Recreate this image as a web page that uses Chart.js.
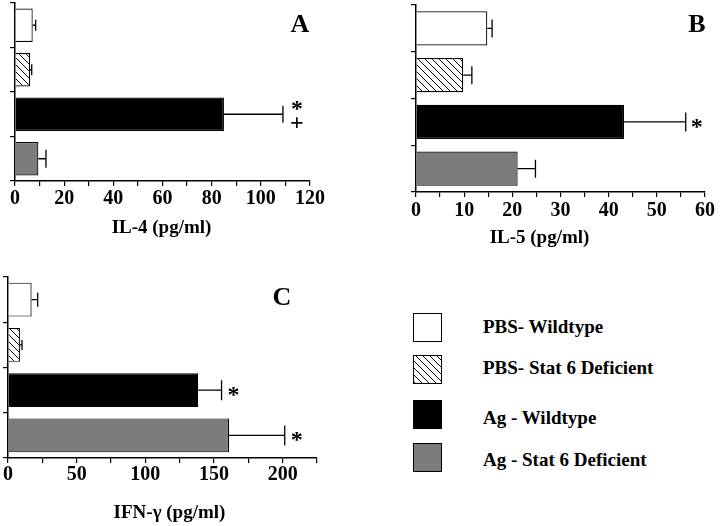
<!DOCTYPE html>
<html>
<head>
<meta charset="utf-8">
<script src="https://cdn.jsdelivr.net/npm/chart.js@4"></script>
<style>
  body { margin: 0; background: #fff; width: 720px; height: 526px; position: relative; overflow: hidden; }
  canvas { position: absolute; }
  #legend { position: absolute; left: 0; top: 0; font: bold 19px "Liberation Serif", "Times New Roman", serif; color: #000; }
  .sw { position: absolute; width: 27px; height: 27px; border: 1.5px solid #000; }
  .lt { position: absolute; left: 483px; line-height: 20px; white-space: nowrap; }
</style>
</head>
<body>
<canvas id="chartA" width="330" height="245" style="left:0;top:0"></canvas>
<canvas id="chartB" width="340" height="255" style="left:380px;top:0"></canvas>
<canvas id="chartC" width="340" height="256" style="left:0;top:270px"></canvas>
<div id="legend"></div>
<script>
// groups, top to bottom
const groups = ['PBS- Wildtype', 'PBS- Stat 6 Deficient', 'Ag - Wildtype', 'Ag - Stat 6 Deficient'];

// panel A - IL-4
const il4 = [7.2, 6.1, 85, 9.5];
const il4Err = [1.2, 0.7, 24, 3.1];
const il4Marks = [[], [], ['*', '+'], []];

// panel B - IL-5
const il5 = [14.8, 9.8, 43.2, 21.1];
const il5Err = [1.0, 1.8, 12.8, 3.7];
const il5Marks = [[], [], ['*'], []];

// panel C - IFN-gamma
const ifng = [17.2, 8.7, 138.5, 161];
const ifngErr = [4.4, 1.5, 17, 40.5];
const ifngMarks = [[], [], ['*'], ['*']];

const serif = '"Liberation Serif", "Times New Roman", serif';

// hatch for the stat6 deficient PBS group
function hatch() {
  const s = 7;
  const c = document.createElement('canvas');
  c.width = s; c.height = s;
  const g = c.getContext('2d');
  g.fillStyle = '#fff';
  g.fillRect(0, 0, s, s);
  g.strokeStyle = '#000';
  g.lineWidth = 1;
  g.beginPath();
  g.moveTo(0, 0); g.lineTo(s, s);
  g.moveTo(-1, s - 1); g.lineTo(1, s + 1);
  g.moveTo(s - 1, -1); g.lineTo(s + 1, 1);
  g.stroke();
  return g.createPattern(c, 'repeat');
}
const fills = ['#ffffff', hatch(), '#000000', '#7c7c7c'];

// error bars, significance marks, panel letter, axis title
const deco = {
  id: 'deco',
  afterDatasetsDraw(chart, args, o) {
    const ctx = chart.ctx, xs = chart.scales.x, area = chart.chartArea;
    const vals = chart.data.datasets[0].data;
    const meta = chart.getDatasetMeta(0);
    ctx.save();
    ctx.strokeStyle = '#000';
    ctx.fillStyle = '#000';
    ctx.lineWidth = 1.3;
    meta.data.forEach((bar, i) => {
      const x0 = xs.getPixelForValue(vals[i]);
      const x1 = xs.getPixelForValue(vals[i] + o.err[i]);
      const cy = bar.y;
      const cap = o.cap[i];
      ctx.beginPath();
      ctx.moveTo(x0, cy); ctx.lineTo(x1, cy);
      ctx.moveTo(x1, cy - cap / 2); ctx.lineTo(x1, cy + cap / 2);
      ctx.stroke();
      const m = o.marks[i];
      ctx.font = 'bold 24px ' + serif;
      ctx.textAlign = 'center';
      ctx.textBaseline = 'alphabetic';
      if (m.length === 1) {
        ctx.fillText(m[0], x1 + o.markGap, cy + 12);
      } else if (m.length === 2) {
        ctx.fillText(m[0], x1 + o.markGap, cy + 2);
        ctx.fillText(m[1], x1 + o.markGap, cy + 16);
      }
    });
    ctx.font = 'bold 26px ' + serif;
    ctx.textAlign = 'center';
    ctx.textBaseline = 'middle';
    ctx.fillText(o.letter, area.right + o.letterPos[0], area.top + o.letterPos[1]);
    ctx.font = 'bold 19px ' + serif;
    ctx.fillText(o.title, (area.left + area.right) / 2 + o.titlePos[0], area.bottom + o.titlePos[1]);
    ctx.restore();
  }
};

function makePanel(id, vals, errs, marks, cfg) {
  return new Chart(document.getElementById(id), {
    type: 'bar',
    data: {
      labels: groups,
      datasets: [{
        data: vals,
        backgroundColor: fills,
        borderColor: '#000',
        borderWidth: 1.2,
        barPercentage: cfg.bp,
        categoryPercentage: 1
      }]
    },
    options: {
      indexAxis: 'y',
      responsive: false,
      animation: false,
      layout: { padding: cfg.pad },
      plugins: {
        legend: { display: false },
        tooltip: { enabled: false },
        deco: {
          err: errs, marks: marks, cap: cfg.cap, markGap: cfg.markGap,
          letter: cfg.letter, letterPos: cfg.letterPos,
          title: cfg.title, titlePos: cfg.titlePos
        }
      },
      scales: {
        x: {
          min: 0, max: cfg.max,
          ticks: {
            stepSize: cfg.step, autoSkip: false, maxRotation: 0,
            padding: cfg.tickPad, color: '#000',
            font: { family: serif, size: 20, weight: 'bold', lineHeight: 1 },
            callback: v => (v % cfg.labelStep === 0 ? v : '')
          },
          grid: { drawOnChartArea: false, tickLength: 5, color: '#000', lineWidth: 1.2 },
          border: { color: '#000', width: 1.5 },
          afterFit: s => { s.height = cfg.xh; }
        },
        y: {
          ticks: { display: false },
          grid: { drawOnChartArea: false, tickLength: 5, color: '#000', lineWidth: 1.2, offset: true },
          border: { color: '#000', width: 1.5 },
          afterFit: s => { s.width = cfg.yw; }
        }
      }
    },
    plugins: [deco]
  });
}

makePanel('chartA', il4, il4Err, il4Marks, {
  max: 120, step: 10, labelStep: 20, bp: 0.75,
  pad: { left: 7, right: 20, top: 3, bottom: 0 }, yw: 8, xh: 64, tickPad: 3,
  cap: [11, 11, 17, 18], markGap: 14,
  letter: 'A', letterPos: [-10, 22],
  title: 'IL-4 (pg/ml)', titlePos: [-1, 47]
});

makePanel('chartB', il5, il5Err, il5Marks, {
  max: 60, step: 5, labelStep: 10, bp: 0.73,
  pad: { left: 28, right: 15, top: 5, bottom: 0 }, yw: 8, xh: 63, tickPad: 4,
  cap: [18, 18, 19, 18], markGap: 11,
  letter: 'B', letterPos: [-8, 20],
  title: 'IL-5 (pg/ml)', titlePos: [-21, 46]
});

makePanel('chartC', ifng, ifngErr, ifngMarks, {
  max: 225, step: 25, labelStep: 50, bp: 0.75,
  pad: { left: 2, right: 23, top: 7, bottom: 0 }, yw: 6, xh: 68, tickPad: 2,
  cap: [14, 10, 20, 20], markGap: 12,
  letter: 'C', letterPos: [-35, 21],
  title: 'IFN-\u03b3 (pg/ml)', titlePos: [7, 55]
});

// legend
const swTop = [313, 355, 400, 443];
const txtMid = [327, 368, 418, 460];
const swBg = ['#fff', 'repeating-linear-gradient(45deg, #000 0 1px, #fff 1px 5px)', '#000', '#7c7c7c'];
const lg = document.getElementById('legend');
groups.forEach((g, i) => {
  const s = document.createElement('div');
  s.className = 'sw';
  s.style.left = '413px';
  s.style.top = swTop[i] + 'px';
  s.style.background = swBg[i];
  lg.appendChild(s);
  const t = document.createElement('div');
  t.className = 'lt';
  t.style.top = (txtMid[i] - 10) + 'px';
  t.textContent = g;
  lg.appendChild(t);
});
</script>
</body>
</html>
